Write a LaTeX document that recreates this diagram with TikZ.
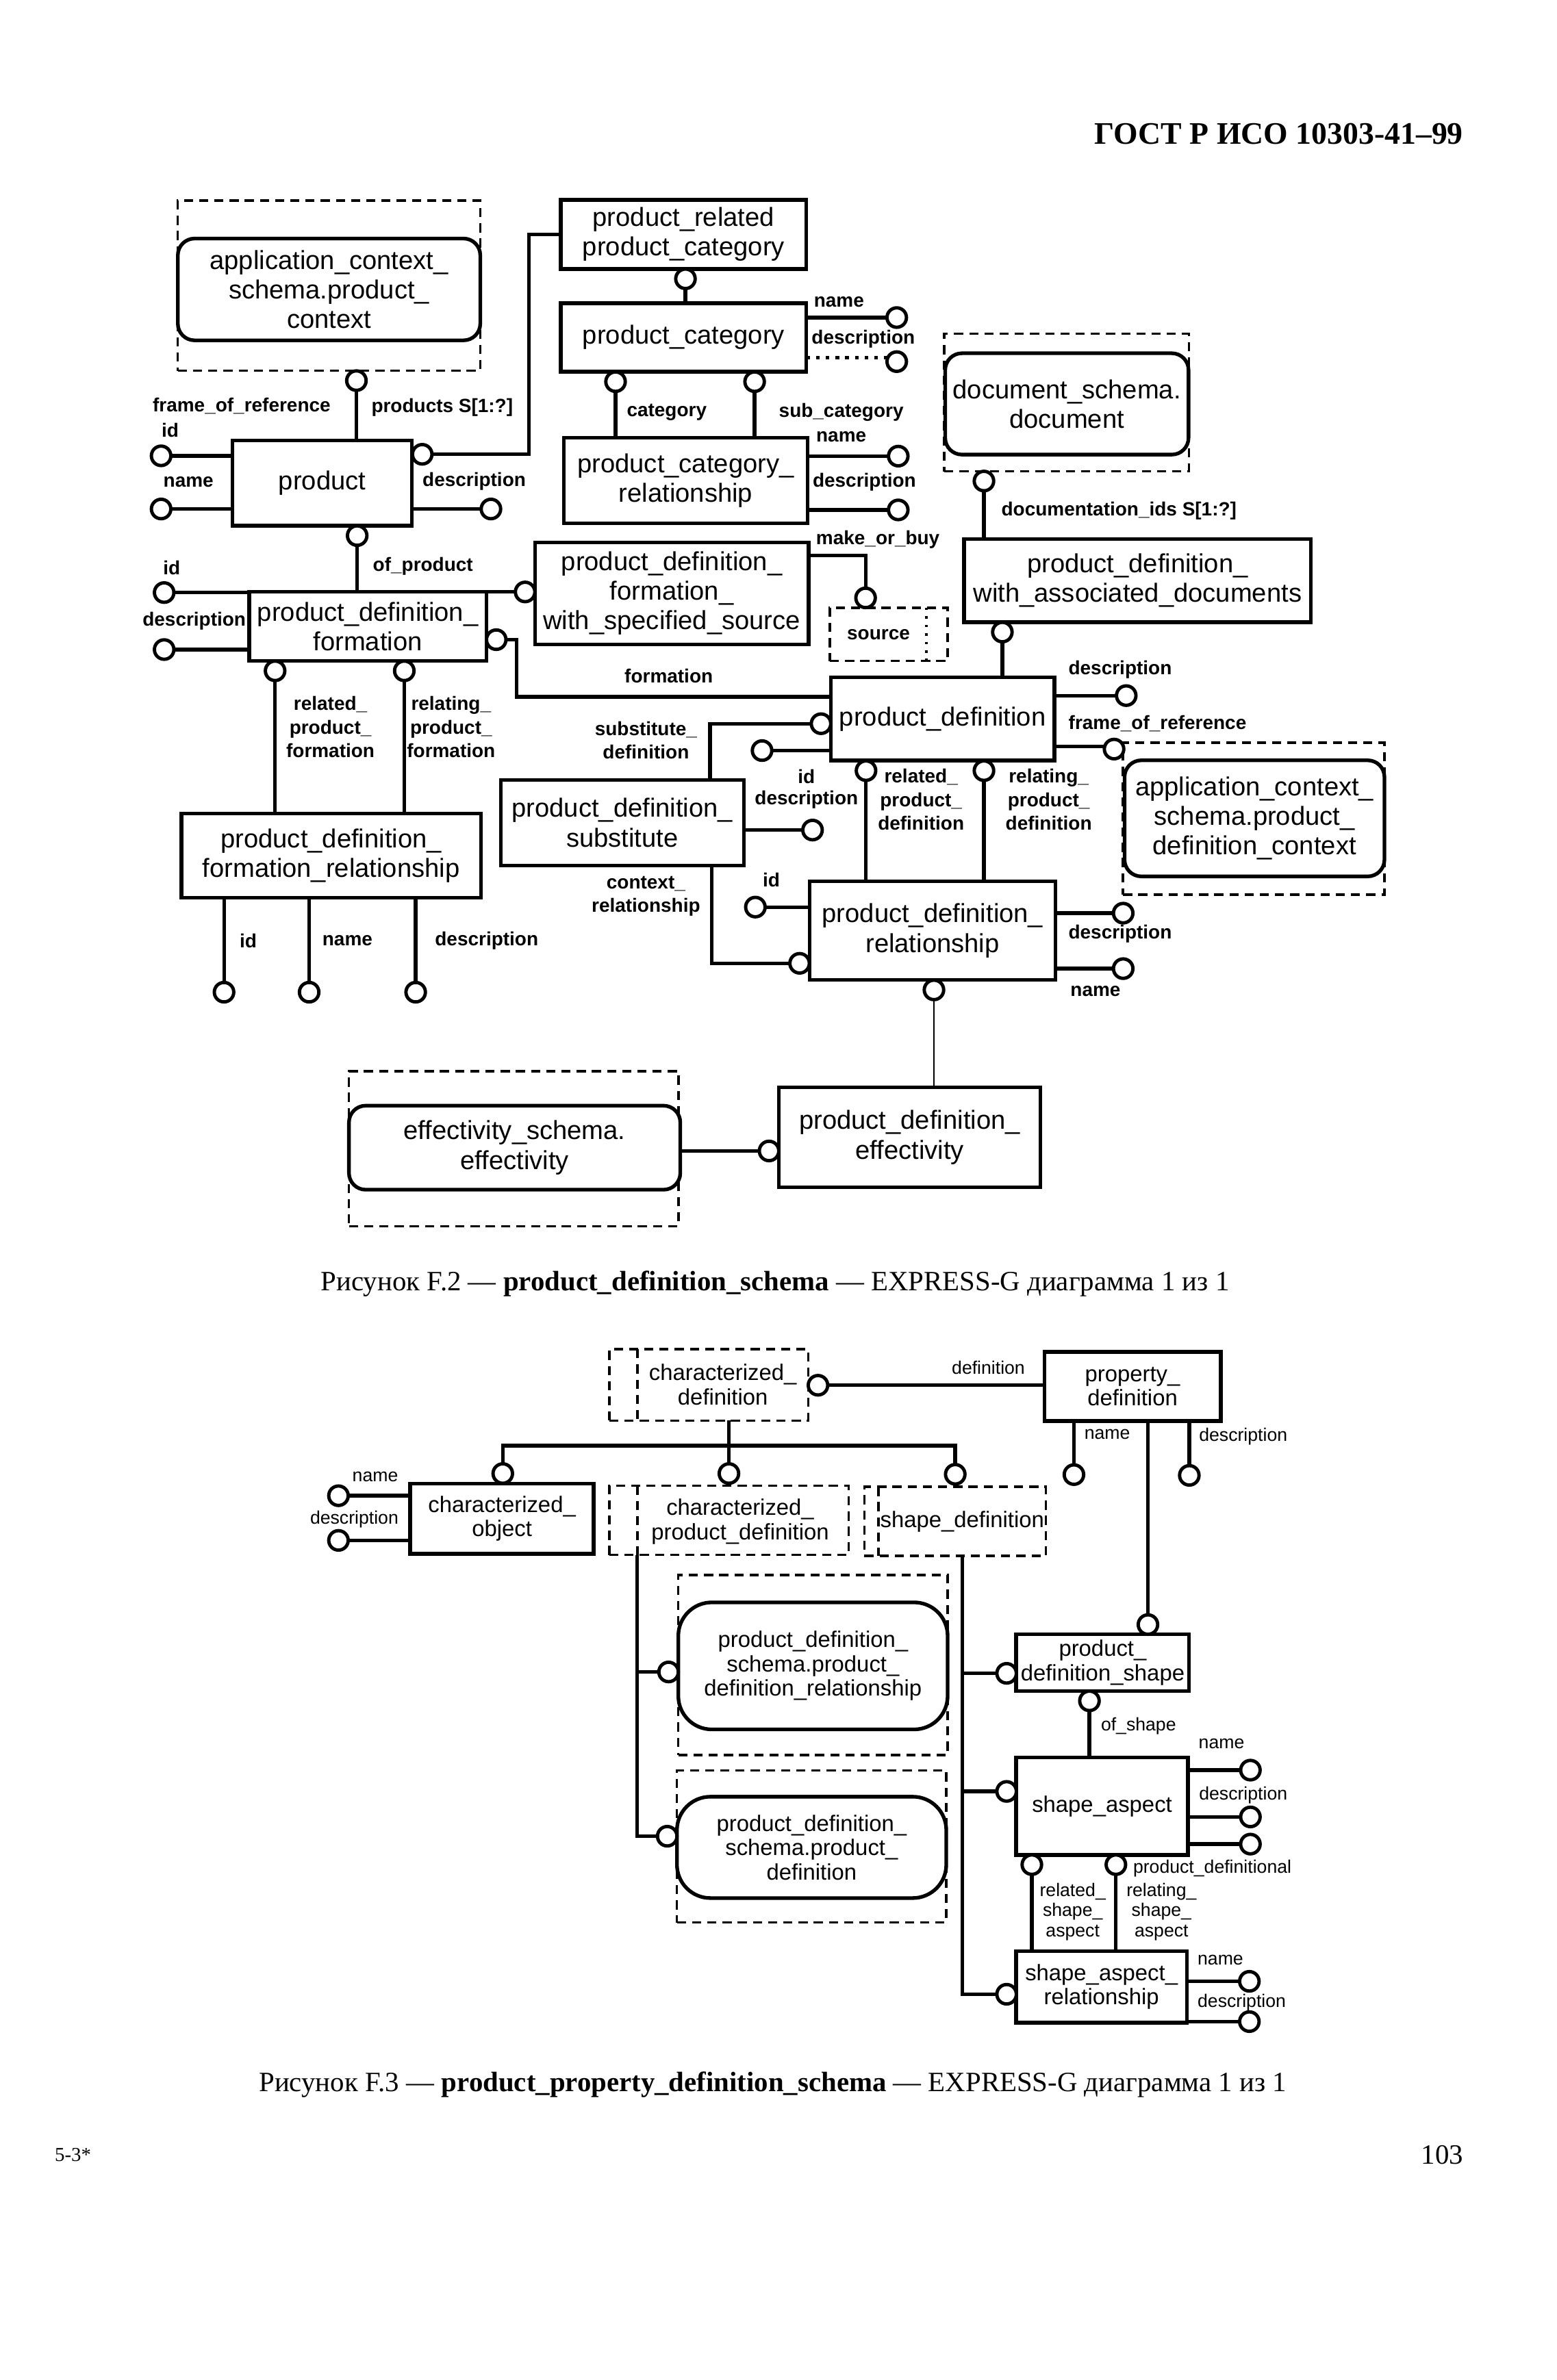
\documentclass[tikz,border=0pt]{standalone}
\usepackage{fontspec}
\setmainfont{Liberation Sans}
\newfontfamily\seriffont{Liberation Serif}
\usetikzlibrary{calc}
\newcommand\fbx{\fontsize{8.6pt}{9.75pt}\selectfont}
\newcommand\flb{\fontsize{6.3pt}{7.7pt}\selectfont\bfseries}
\newcommand\fbxc{\fontsize{7.4pt}{8pt}\selectfont}
\newcommand\flbc{\fontsize{6pt}{6.7pt}\selectfont}
\tikzset{
  ent/.style={draw, line width=1.2pt, inner sep=0pt, outer sep=0pt, align=center, font=\fbx, fill=white},
  refbox/.style={rounded corners=5.5pt},
  dbox/.style={dashed, line width=0.8pt, dash pattern=on 3pt off 2pt},
  dline/.style={dashed, line width=0.8pt, dash pattern=on 3pt off 2pt},
  circ/.style={circle, draw, line width=1.1pt, minimum size=6.4pt, inner sep=0pt, outer sep=0pt, fill=white},
  conn/.style={line width=1.2pt},
  thinconn/.style={line width=0.5pt},
  lab/.style={font=\flb, inner sep=0pt, align=center},
  labc/.style={font=\flbc, inner sep=0pt, align=center},
  txt/.style={font=\fbx, inner sep=0pt, align=center},
  txtc/.style={font=\fbxc, inner sep=0pt, align=center},
}
\newcommand\entbox[7][]{%
  \pgfmathsetmacro\tmpw{(#5-#3)/2}%
  \pgfmathsetmacro\tmph{(#6-#4)/2}%
  \node[ent,#1,minimum width=\tmpw pt,minimum height=\tmph pt] (#2) at ({(#3+#5)/2},{(#4+#6)/2}) {#7};}
\begin{document}
\begin{tikzpicture}[x=0.5pt,y=-0.5pt]
\fill[white] (0,0) rectangle (1024,1566.4);
\useasboundingbox (0,0) rectangle (1024,1566.4);

% ---------------- header ----------------
\node[anchor=east, inner sep=0pt, font=\seriffont\bfseries\fontsize{10.3pt}{12pt}\selectfont] (hdr) at (963,88) {ГОСТ Р ИСО 10303-41–99};

% ================= FIGURE F.2 =================
% dashed reference frames
\entbox[dbox]{dA}{117}{132}{316}{244}{}
\entbox[dbox]{dD}{621.3}{219.6}{782.2}{310.2}{}
\entbox[dbox]{dB}{738.9}{488.8}{910.9}{588.9}{}
\entbox[dbox]{dC}{229.6}{705}{446.5}{807}{}
\entbox[dbox]{SRC}{546}{400}{623.5}{435}{}
\draw[dotted, line width=0.8pt] ([xshift=-7pt]SRC.north east) -- ([xshift=-7pt]SRC.south east);
\node[lab] (srct) at (578,417.5) {source};

% rounded schema references
\entbox[refbox]{rA}{117}{157}{316}{224}{application\_context\_\\schema.product\_\\context}
\entbox[refbox]{rD}{621.9}{232.5}{782}{299.2}{document\_schema.\\document}
\entbox[refbox]{rB}{739.9}{500.4}{910.9}{576.8}{application\_context\_\\schema.product\_\\definition\_context}
\entbox[refbox]{rC}{229.6}{727.7}{447.6}{783}{effectivity\_schema.\\effectivity}

% entities
\entbox{P}{153}{290}{271}{346}{product}
\entbox{PRPC}{369}{131.5}{530.5}{177}{product\_related\\product\_category}
\entbox{PC}{369}{199.6}{530.5}{244.7}{product\_category}
\entbox{PCR}{371}{288}{531.3}{344.4}{product\_category\_\\relationship}
\entbox{PDWSS}{352}{357}{532}{424}{product\_definition\_\\formation\_\\with\_specified\_source}
\entbox{PDF}{164}{389.6}{320}{435}{product\_definition\_\\formation}
\entbox{PDFR}{119.4}{535.4}{316.4}{590.7}{product\_definition\_\\formation\_relationship}
\entbox{PDWAD}{634.3}{354.8}{862.6}{409.5}{product\_definition\_\\with\_associated\_documents}
\entbox{PD}{546.7}{445.7}{693.7}{500.5}{product\_definition}
\entbox{PDSUB}{329.5}{513.3}{489.4}{569.6}{product\_definition\_\\substitute}
\entbox{PDR}{532.6}{580}{694.5}{645}{product\_definition\_\\relationship}
\entbox{PDE}{512.4}{715.6}{684.6}{781.5}{product\_definition\_\\effectivity}

% circles F.2
\node[circ] (cA) at (234.5,250.5) {};
\node[circ] (cPid) at (106,300) {};
\node[circ] (cPname) at (106,335) {};
\node[circ] (cPdesc) at (323,335) {};
\node[circ] (cPr) at (277.8,299) {};
\node[circ] (cPb) at (235,352.5) {};
\node[circ] (cPRPC) at (451,183.5) {};
\node[circ] (cPCn) at (590,209) {};
\node[circ] (cPCd) at (590,238) {};
\node[circ] (cPCa) at (405,251.2) {};
\node[circ] (cPCb) at (496.5,251.2) {};
\node[circ] (cPCRn) at (591,300.2) {};
\node[circ] (cPCRd) at (591,335.6) {};
\node[circ] (cMB) at (569.5,393.5) {};
\node[circ] (cPDFid) at (108,390) {};
\node[circ] (cPDFd) at (108,427.5) {};
\node[circ] (cWSS) at (345.5,389.6) {};
\node[circ] (cPDFr) at (326.5,421) {};
\node[circ] (cPDFa) at (181,441.5) {};
\node[circ] (cPDFb) at (266,441.5) {};
\node[circ] (cFRi) at (147.4,653) {};
\node[circ] (cFRn) at (203.4,653) {};
\node[circ] (cFRd) at (273.5,653) {};
\node[circ] (cD) at (647.4,316.6) {};
\node[circ] (cWAD) at (659.5,416) {};
\node[circ] (cPDd) at (741,457.8) {};
\node[circ] (cPDfr) at (733,493) {};
\node[circ] (cPDs) at (540.2,476.3) {};
\node[circ] (cPDid) at (501.4,494) {};
\node[circ] (cSUBd) at (534.6,546.3) {};
\node[circ] (cCtx) at (526.1,634) {};
\node[circ] (cPDa) at (569.8,507.2) {};
\node[circ] (cPDb) at (647.4,507.2) {};
\node[circ] (cPDRid) at (497,597) {};
\node[circ] (cPDRd) at (739,601) {};
\node[circ] (cPDRn) at (739,637.5) {};
\node[circ] (cPDRb) at (614.5,651.5) {};
\node[circ] (cPDE) at (506,757.5) {};

% bend points
\coordinate (kP) at (348,299);
\coordinate (kMB) at (569.5,365.5);
\coordinate (kF) at (340,458.6);
\coordinate (kS) at (467.2,476.3);
\coordinate (kC) at (468.2,634);

% connectors F.2
\begin{scope}[conn]
\draw (cA.south) -- (cA.south |- P.north);
\draw (cPid.east) -- (cPid.east -| P.west);
\draw (cPname.east) -- (cPname.east -| P.west);
\draw (cPdesc.west -| P.east) -- (cPdesc.west);
\draw (cPr.east) -- (kP) |- (PRPC.west);
\draw (cPb.south) -- (cPb.south |- PDF.north);
\draw (cPRPC.south) -- (cPRPC.south |- PC.north);
\draw (cPCn.west -| PC.east) -- (cPCn.west);
\draw[dotted] (cPCd.155 -| PC.east) -- (cPCd.155);
\draw (cPCa.south) -- (cPCa.south |- PCR.north);
\draw (cPCb.south) -- (cPCb.south |- PCR.north);
\draw (cPCRn.west -| PCR.east) -- (cPCRn.west);
\draw (cPCRd.west -| PCR.east) -- (cPCRd.west);
\draw (PDWSS.east |- kMB) -- (kMB) -- (cMB.north);
\draw (cPDFid.east) -- (cPDFid.east -| PDF.west);
\draw (cPDFd.east) -- (cPDFd.east -| PDF.west);
\draw (cWSS.west -| PDF.east) -- (cWSS.west);
\draw (cPDFr.east) -| (kF) -- (kF -| PD.west);
\draw (cPDFa.south) -- (cPDFa.south |- PDFR.north);
\draw (cPDFb.south) -- (cPDFb.south |- PDFR.north);
\draw (cFRi.north |- PDFR.south) -- (cFRi.north);
\draw (cFRn.north |- PDFR.south) -- (cFRn.north);
\draw (cFRd.north |- PDFR.south) -- (cFRd.north);
\draw (cD.south) -- (cD.south |- PDWAD.north);
\draw (cWAD.south) -- (cWAD.south |- PD.north);
\draw (cPDd.west -| PD.east) -- (cPDd.west);
\draw (cPDfr.165 -| PD.east) -- (cPDfr.165);
\draw (cPDs.west) -- (kS) -- (kS |- PDSUB.north);
\draw (cPDid.east) -- (cPDid.east -| PD.west);
\draw (cSUBd.west -| PDSUB.east) -- (cSUBd.west);
\draw (kC |- PDSUB.south) -- (kC) -- (cCtx.west);
\draw (cPDa.south) -- (cPDa.south |- PDR.north);
\draw (cPDb.south) -- (cPDb.south |- PDR.north);
\draw (cPDRid.east) -- (cPDRid.east -| PDR.west);
\draw (cPDRd.west -| PDR.east) -- (cPDRd.west);
\draw (cPDRn.west -| PDR.east) -- (cPDRn.west);
\draw (cPDE.west -| rC.east) -- (cPDE.west);
\end{scope}
\draw[thinconn] (cPDRb.south) -- (cPDRb.south |- PDE.north);

% labels F.2
\node[lab] at (159,267) {frame\_of\_reference};
\node[lab] at (112,283) {id};
\node[lab,anchor=west] at (244,268) {products S[1:?]};
\node[lab] at (124,317) {name};
\node[lab] at (312,317) {description};
\node[lab] at (552,198.8) {name};
\node[lab] at (568,223) {description};
\node[lab] at (438.7,271.2) {category};
\node[lab] at (553.5,271.2) {sub\_category};
\node[lab] at (553.5,287.3) {name};
\node[lab] at (568.7,317.1) {description};
\node[lab] at (577.6,354.9) {make\_or\_buy};
\node[lab] at (113,373.5) {id};
\node[lab] at (127.8,408.7) {description};
\node[lab,anchor=west] at (245,372.5) {of\_product};
\node[lab] at (440,445) {formation};
\node[lab] at (217.4,478.5) {related\_\\product\_\\formation};
\node[lab] at (296.8,478.5) {relating\_\\product\_\\formation};
\node[lab] at (163.3,619) {id};
\node[lab] at (228.6,619) {name};
\node[lab] at (320.2,619) {description};
\node[lab,anchor=west] at (658.5,336.3) {documentation\_ids S[1:?]};
\node[lab] at (737,440.9) {description};
\node[lab,anchor=west] at (702.7,476.3) {frame\_of\_reference};
\node[lab] at (425,487.2) {substitute\_\\definition};
\node[lab] at (530.6,510.9) {id};
\node[lab] at (530.6,526.2) {description};
\node[lab] at (425,589.8) {context\_\\relationship};
\node[lab] at (606,526.2) {related\_\\product\_\\definition};
\node[lab] at (690,526.2) {relating\_\\product\_\\definition};
\node[lab] at (507.5,579.3) {id};
\node[lab] at (737,614.6) {description};
\node[lab] at (720.8,652.5) {name};

% caption F.2
\node[inner sep=0pt, font=\seriffont\fontsize{9.2pt}{11pt}\selectfont] (capA) at (510,845) {Рисунок F.2 — \textbf{product\_definition\_schema} — EXPRESS-G диаграмма 1 из 1};

% ================= FIGURE F.3 =================
\entbox[dbox]{CD}{400.9}{888}{531.9}{935}{}
\draw[dline] ([xshift=9.2pt]CD.north west) -- ([xshift=9.2pt]CD.south west);
\node[txtc] (CDt) at (475.6,911.3) {characterized\_\\definition};
\entbox[dbox]{CPD}{400.9}{977.8}{558.3}{1023.4}{}
\draw[dline] ([xshift=9.2pt]CPD.north west) -- ([xshift=9.2pt]CPD.south west);
\node[txtc] (CPDt) at (487,1001.4) {characterized\_\\product\_definition};
\entbox[dbox]{SD}{568.7}{978.6}{688.2}{1024.1}{}
\draw[dline] ([xshift=4.6pt]SD.north west) -- ([xshift=4.6pt]SD.south west);
\node[txtc] (SDt) at (633.1,1001.3) {shape\_definition};
\entbox[dbox]{D1}{446.3}{1036.5}{623.5}{1155}{}
\entbox[dbox]{D2}{445.4}{1165.2}{622.6}{1265.3}{}
\entbox[refbox, rounded corners=11pt, font=\fbxc]{R1}{446.3}{1054.6}{623.5}{1138.2}{product\_definition\_\\schema.product\_\\definition\_relationship}
\entbox[refbox, rounded corners=11pt, font=\fbxc]{R2}{445.4}{1182.5}{622.6}{1249.2}{product\_definition\_\\schema.product\_\\definition}

\entbox[font=\fbxc]{PROP}{687.1}{889.7}{803.2}{935.2}{property\_\\definition}
\entbox[font=\fbxc]{CO}{269.9}{976.4}{390.6}{1022.6}{characterized\_\\object}
\entbox[font=\fbxc]{PDS}{668.6}{1075.6}{782.4}{1113}{product\_\\definition\_shape}
\entbox[font=\fbxc]{SA}{668.6}{1156.7}{781.6}{1220.8}{shape\_aspect}
\entbox[font=\fbxc]{SAR}{668.6}{1284}{780.8}{1331.2}{shape\_aspect\_\\relationship}

% circles F.3
\node[circ] (cCD) at (538.2,911.7) {};
\node[circ] (cPRn) at (706.6,970.5) {};
\node[circ] (cPRd) at (782.5,971) {};
\node[circ] (cCO) at (330.8,969.8) {};
\node[circ] (cCPD) at (479.6,969.8) {};
\node[circ] (cSD) at (628.5,970.3) {};
\node[circ] (cCOn) at (222.7,984.4) {};
\node[circ] (cCOd) at (222.7,1013.8) {};
\node[circ] (cR1) at (439.9,1100.4) {};
\node[circ] (cR2) at (439,1208.5) {};
\node[circ] (cPDSl) at (662.3,1101.3) {};
\node[circ] (cSAl) at (662.3,1179) {};
\node[circ] (cSARl) at (662.3,1312.5) {};
\node[circ] (cPDSt) at (755.3,1069.2) {};
\node[circ] (cPDSb) at (716.8,1119.4) {};
\node[circ] (cSAn) at (822.7,1165) {};
\node[circ] (cSAd) at (822.7,1195.8) {};
\node[circ] (cSAp) at (822.7,1213.7) {};
\node[circ] (cSAa) at (678.9,1227.2) {};
\node[circ] (cSAb) at (734.2,1227.2) {};
\node[circ] (cSARn) at (822,1304) {};
\node[circ] (cSARd) at (822,1330.5) {};

\coordinate (jCD) at (479.6,951.4);
\coordinate (kL) at (419.3,1208.5);
\coordinate (kR) at (633.2,1312.5);

\begin{scope}[conn]
\draw (cCD.east) -- (cCD.east -| PROP.west);
\draw (cPRn.north |- PROP.south) -- (cPRn.north);
\draw (cPRd.north |- PROP.south) -- (cPRd.north);
\draw (cPDSt.north |- PROP.south) -- (cPDSt.north);
\draw (jCD |- CD.south) -- (cCPD.north);
\draw (cCO.north) |- (jCD) -| (cSD.north);
\draw (cCOn.east) -- (cCOn.east -| CO.west);
\draw (cCOd.east) -- (cCOd.east -| CO.west);
\draw (kL |- CPD.south) -- (kL) -- (cR2.west);
\draw (cR1.west -| kL) -- (cR1.west);
\draw (kR |- SD.south) -- (kR) -- (cSARl.west);
\draw (cPDSl.west -| kR) -- (cPDSl.west);
\draw (cSAl.west -| kR) -- (cSAl.west);
\draw (cPDSb.south) -- (cPDSb.south |- SA.north);
\draw (cSAn.west -| SA.east) -- (cSAn.west);
\draw (cSAd.west -| SA.east) -- (cSAd.west);
\draw (cSAp.west -| SA.east) -- (cSAp.west);
\draw (cSAa.south) -- (cSAa.south |- SAR.north);
\draw (cSAb.south) -- (cSAb.south |- SAR.north);
\draw (cSARn.west -| SAR.east) -- (cSARn.west);
\draw (cSARd.west -| SAR.east) -- (cSARd.west);
\end{scope}

% labels F.3
\node[labc] at (650.3,900) {definition};
\node[labc] at (728.5,944) {name};
\node[labc] at (818,945.5) {description};
\node[labc] at (246.9,972) {name};
\node[labc] at (233.1,1000) {description};
\node[labc,anchor=west] at (724,1136.2) {of\_shape};
\node[labc] at (803.7,1147.8) {name};
\node[labc] at (818,1181.6) {description};
\node[labc,anchor=west] at (745.2,1229.7) {product\_definitional};
\node[labc] at (705.8,1258.2) {related\_\\shape\_\\aspect};
\node[labc] at (764.2,1258.2) {relating\_\\shape\_\\aspect};
\node[labc] at (803,1290.2) {name};
\node[labc] at (817,1317.8) {description};

% caption F.3
\node[inner sep=0pt, font=\seriffont\fontsize{9.2pt}{11pt}\selectfont] (capB) at (508.5,1372) {Рисунок F.3 — \textbf{product\_property\_definition\_schema} — EXPRESS-G диаграмма 1 из 1};

% footer
\node[inner sep=0pt, font=\seriffont\fontsize{6.5pt}{8pt}\selectfont] (ftl) at (48,1418) {5-3*};
\node[inner sep=0pt, font=\seriffont\fontsize{9.2pt}{11pt}\selectfont] (ftr) at (949,1418) {103};
\end{tikzpicture}
\end{document}
